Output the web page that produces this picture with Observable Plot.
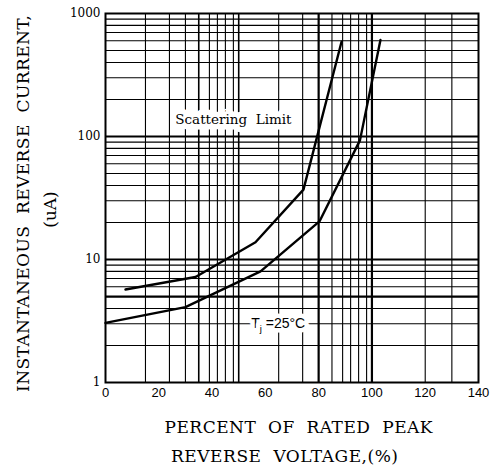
<!DOCTYPE html>
<html>
<head>
<meta charset="utf-8">
<script src="https://cdn.jsdelivr.net/npm/d3@7"></script>
<script src="https://cdn.jsdelivr.net/npm/@observablehq/plot@0.6"></script>
<style>
  html, body { margin: 0; padding: 0; background: #fff; }
</style>
</head>
<body>
<div id="chart"></div>
<script>
// ---- data ----
const xTicks = [0, 20, 40, 60, 80, 100, 120, 140];
const yTicks = [1, 10, 100, 1000];
const xGridThin = [15, 24, 30, 39, 42, 45, 48, 65, 74, 85, 89, 92, 95, 98, 120, 130];
const xGridMid = [35, 50];
const xGridThick = [80, 100];
const yGridThin = [2, 3, 4, 6, 7, 8, 9, 20, 30, 40, 50, 60, 70, 80, 90, 200, 300, 400, 500, 600, 700, 800, 900];
const yGridThick = [5, 10, 100];

const upperX = [7.5, 33.8, 56.3, 74.3, 88.6];
const upperY = [5.7, 7.2, 13.8, 37, 590];
const lowerX = [0, 30, 58.2, 80.3, 95.5, 103.2];
const lowerY = [3.05, 4.1, 8.0, 20.4, 93, 610];

const yTitle = "INSTANTANEOUS  REVERSE  CURRENT,";
const yUnit = "(uA)";
const xTitle1 = "PERCENT  OF  RATED  PEAK";
const xTitle2 = "REVERSE  VOLTAGE,(%)";
const note1 = "Scattering  Limit";
const note2 = "Tj =25°C";

const upper = upperX.map((x, i) => ({x, y: upperY[i]}));
const lower = lowerX.map((x, i) => ({x, y: lowerY[i]}));

const serif = "'DejaVu Serif', 'Liberation Serif', serif";
const sans = "'Liberation Sans', Arial, sans-serif";

const chart = Plot.plot({
  width: 495,
  height: 471,
  marginLeft: 105,
  marginRight: 17,
  marginTop: 13,
  marginBottom: 89,
  style: {background: "#fff", overflow: "visible"},
  x: {domain: [0, 140], axis: null},
  y: {type: "log", domain: [1, 1000], axis: null},
  marks: [
    Plot.ruleX(xGridThin, {stroke: "#000", strokeWidth: 1.1}),
    Plot.ruleX(xGridMid, {stroke: "#000", strokeWidth: 1.6}),
    Plot.ruleX(xGridThick, {stroke: "#000", strokeWidth: 2.2}),
    Plot.ruleY(yGridThin, {stroke: "#000", strokeWidth: 1.1}),
    Plot.ruleY(yGridThick, {stroke: "#000", strokeWidth: 2.2}),
    Plot.frame({stroke: "#000", strokeWidth: 2}),
    Plot.text([note1], {x: 48, y: 137, text: d => d, fontFamily: serif, fontSize: 13.5, fill: "#000", stroke: "#fff", strokeWidth: 11}),
    Plot.text([note2], {x: 64.8, y: 3, text: d => d, fontFamily: sans, fontSize: 14, fill: "#000", stroke: "#fff", strokeWidth: 9}),
    Plot.line(upper, {x: "x", y: "y", stroke: "#000", strokeWidth: 2.4}),
    Plot.line(lower, {x: "x", y: "y", stroke: "#000", strokeWidth: 2.4}),
    Plot.text(xTicks, {x: d => d, text: d => String(d), frameAnchor: "bottom", dy: 14, fontFamily: sans, fontSize: 13, fill: "#000"}),
    Plot.text(yTicks, {y: d => d, text: d => String(d), frameAnchor: "left", textAnchor: "end", dx: -5, fontFamily: serif, fontSize: 12, fill: "#000"}),
    Plot.text([yTitle], {text: d => d, frameAnchor: "left", textAnchor: "middle", rotate: -90, dx: -81.5, dy: 5.5, fontFamily: serif, fontSize: 17, fill: "#000"}),
    Plot.text([yUnit], {text: d => d, frameAnchor: "left", textAnchor: "middle", rotate: -90, dx: -54.5, dy: 11.5, fontFamily: serif, fontSize: 17, fill: "#000"}),
    Plot.text([xTitle1], {text: d => d, frameAnchor: "bottom", textAnchor: "middle", dy: 50, dx: 6.5, fontFamily: serif, fontSize: 17, fill: "#000"}),
    Plot.text([xTitle2], {text: d => d, frameAnchor: "bottom", textAnchor: "middle", dy: 79, dx: -7.5, fontFamily: serif, fontSize: 17, fill: "#000"})
  ]
});

// styling tweaks: fitted title widths, subscript j
const fit = new Map([[yTitle, 377], [xTitle1, 268], [xTitle2, 227]]);
d3.select(chart).selectAll("text").each(function() {
  const t = this.textContent;
  if (fit.has(t)) {
    this.setAttribute("textLength", fit.get(t));
    this.setAttribute("lengthAdjust", "spacing");
  }
  if (t === note2) {
    const el = d3.select(this);
    el.text(null);
    el.append("tspan").text("T");
    el.append("tspan").attr("font-size", 9.5).attr("dy", 3.5).text("j");
    el.append("tspan").attr("dy", -3.5).text(" =25°C");
  }
});

document.getElementById("chart").appendChild(chart);
</script>
</body>
</html>
